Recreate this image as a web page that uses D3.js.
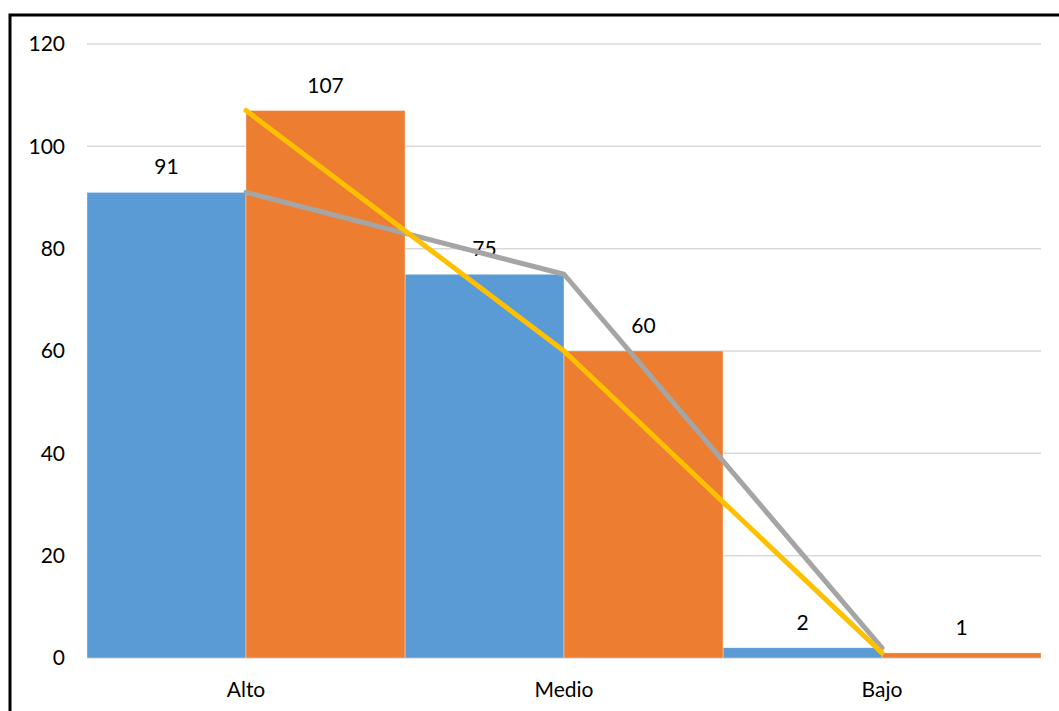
<!DOCTYPE html>
<html><head><meta charset="utf-8">
<script src="https://cdn.jsdelivr.net/npm/d3@7"></script>
<style>body{margin:0;background:#fff}svg{display:block}text{font-family:Lato,"Open Sans",sans-serif;fill:#000}</style>
</head><body><svg id="c" width="1059" height="711"></svg>
<script>
const categories = ["Alto","Medio","Bajo"];
const seriesA = [91,75,2];
const seriesB = [107,60,1];
const yTicks = [0,20,40,60,80,100,120];

const svg = d3.select("#c");
const m = {l:87, r:1041, t:44, b:658};
const x = d3.scaleBand().domain(categories).range([m.l,m.r]).padding(0);
const y = d3.scaleLinear().domain([0,120]).range([m.b,m.t]);
const sub = d3.scaleBand().domain(["A","B"]).range([0,x.bandwidth()]).padding(0);
const FS = "21px";

svg.append("rect").attr("x",10).attr("y",15).attr("width",1200).attr("height",900)
  .attr("fill","none").attr("stroke","#000").attr("stroke-width",3);

svg.append("g").selectAll("line").data(yTicks).join("line")
  .attr("x1",m.l).attr("x2",m.r).attr("y1",d=>y(d)).attr("y2",d=>y(d))
  .attr("stroke","#d9d9d9").attr("stroke-width",1.5);

const yAxis = d3.axisLeft(y).tickValues(yTicks).tickSize(0).tickPadding(22);
const ga = svg.append("g").attr("transform",`translate(${m.l},0)`).call(yAxis);
ga.select(".domain").remove();
ga.selectAll("text").style("font-size",FS).style("font-family","Lato,'Open Sans',sans-serif").attr("fill","#000");

const xAxis = d3.axisBottom(x).tickSize(0).tickPadding(24);
const gx = svg.append("g").attr("transform",`translate(0,${m.b})`).call(xAxis);
gx.select(".domain").remove();
gx.selectAll("text").style("font-size",FS).style("font-family","Lato,'Open Sans',sans-serif").attr("fill","#000");

const series = [{k:"A",v:seriesA,c:"#5B9BD5"},{k:"B",v:seriesB,c:"#ED7D31"}];
series.forEach(s=>{
  svg.append("g").selectAll("rect").data(categories).join("rect")
    .attr("x",d=>x(d)+sub(s.k)).attr("width",sub.bandwidth())
    .attr("y",(d,i)=>y(s.v[i])).attr("height",(d,i)=>y(0)-y(s.v[i]))
    .attr("fill",s.c).attr("stroke","#fff").attr("stroke-width",0.6).attr("stroke-opacity",0.6);
});
series.forEach(s=>{
  svg.append("g").selectAll("text").data(categories).join("text")
    .attr("x",d=>x(d)+sub(s.k)+sub.bandwidth()/2)
    .attr("y",(d,i)=>y(s.v[i])-18)
    .attr("text-anchor","middle").style("font-size",FS)
    .text((d,i)=>s.v[i]);
});

const lines = [{v:seriesA,c:"#A5A5A5"},{v:seriesB,c:"#FFC000"}];
lines.forEach(s=>{
  const ln = d3.line().x((d,i)=>x(categories[i])+x.bandwidth()/2).y(d=>y(d));
  svg.append("path").datum(s.v).attr("d",ln).attr("fill","none")
    .attr("stroke",s.c).attr("stroke-width",5).attr("stroke-linecap","round").attr("stroke-linejoin","round");
});
</script></body></html>
